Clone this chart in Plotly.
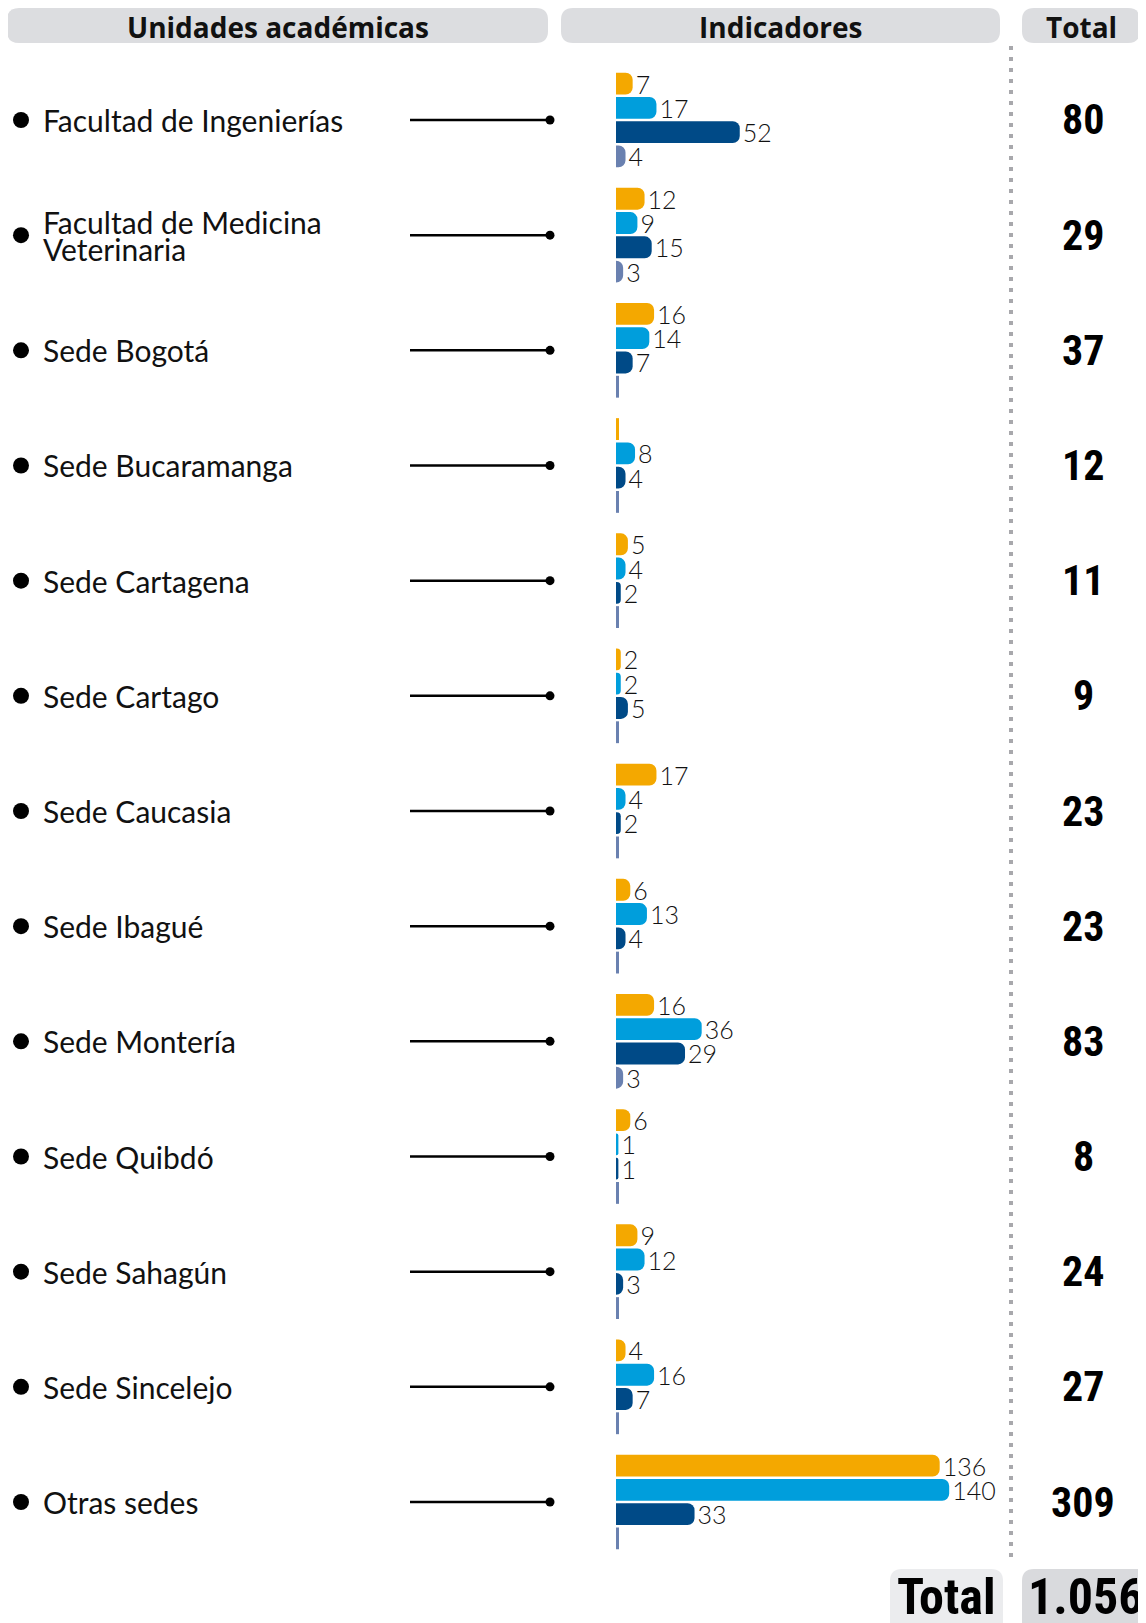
import plotly.graph_objects as go

# ---------------- data ----------------
units = ["Facultad de Ingenierías", "Facultad de Medicina Veterinaria", "Sede Bogotá",
         "Sede Bucaramanga", "Sede Cartagena", "Sede Cartago", "Sede Caucasia",
         "Sede Ibagué", "Sede Montería", "Sede Quibdó", "Sede Sahagún",
         "Sede Sincelejo", "Otras sedes"]
unit_labels = ["Facultad de Ingenierías", "Facultad de Medicina<br>Veterinaria", "Sede Bogotá",
               "Sede Bucaramanga", "Sede Cartagena", "Sede Cartago", "Sede Caucasia",
               "Sede Ibagué", "Sede Montería", "Sede Quibdó", "Sede Sahagún",
               "Sede Sincelejo", "Otras sedes"]
ind1 = [7, 12, 16, 0, 5, 2, 17, 6, 16, 6, 9, 4, 136]
ind2 = [17, 9, 14, 8, 4, 2, 4, 13, 36, 1, 12, 16, 140]
ind3 = [52, 15, 7, 4, 2, 5, 2, 4, 29, 1, 3, 7, 33]
ind4 = [4, 3, 0, 0, 0, 0, 0, 0, 3, 0, 0, 0, 0]
totals = [80, 29, 37, 12, 11, 9, 23, 23, 83, 8, 24, 27, 309]
grand_total = "1.056"
headers = ["Unidades académicas", "Indicadores", "Total"]

# ---------------- style / layout constants ----------------
W, H = 1146, 1623
OFF = 8  # page offset of the figure (body margin)
series = [ind1, ind2, ind3, ind4]
colors = ["#F4A800", "#009EDC", "#004A87", "#6A81B0"]
BARGAP, GROUPGAP = 0.157, 0.10
Y_DOM = [1 - (1559.6 - OFF) / H, 1 - (62.4 - OFF) / H]
X_RANGE = [0, 150]
X_DOM = [(616 - OFF) / W, (973 - OFF) / W]
TXT = "#111111"
LABEL_FONT = "Lato, 'Open Sans', sans-serif"
HEAD_FONT = "'Open Sans', Lato, sans-serif"
COND_FONT = "'Roboto Condensed', Roboto, sans-serif"
LINE_SPACING = 27

fig = go.Figure()

for k, vals in enumerate(series):
    fig.add_trace(go.Bar(
        y=units, x=vals, orientation="h", name=f"Indicador {k+1}",
        marker=dict(color=colors[k], cornerradius=7, line=dict(width=0)),
        text=[str(v) if v > 0 else "" for v in vals],
        textposition="outside", constraintext="none", cliponaxis=False,
        textfont=dict(family=LABEL_FONT, size=25, color=TXT, weight=300),
        hoverinfo="skip", showlegend=False,
    ))

# decorative markers on a page-pixel x axis sharing the category y axis
n = len(units)
fig.add_trace(go.Scatter(x=[21] * n, y=units, xaxis="x3", yaxis="y", mode="markers",
                         marker=dict(size=16, color="black"), hoverinfo="skip", showlegend=False))
fig.add_trace(go.Scatter(x=[550] * n, y=units, xaxis="x3", yaxis="y", mode="markers",
                         marker=dict(size=9, color="black"), hoverinfo="skip", showlegend=False))

shapes = []
annotations = []

def rounded(x0, y0, x1, y1, r):
    return (f"M {x0+r},{y0} L {x1-r},{y0} Q {x1},{y0} {x1},{y0+r} L {x1},{y1-r} "
            f"Q {x1},{y1} {x1-r},{y1} L {x0+r},{y1} Q {x0},{y1} {x0},{y1-r} "
            f"L {x0},{y0+r} Q {x0},{y0} {x0+r},{y0} Z")

# header pills
for (x0, x1), txt in zip([(7, 548), (561, 1000), (1022, 1140)], headers):
    shapes.append(dict(type="path", xref="x3", yref="y3", path=rounded(x0, 8, x1, 43, 12),
                       fillcolor="#DCDDE0", line=dict(width=0), layer="below"))
    annotations.append(dict(x=(x0 + x1) / 2, y=27, xref="x3", yref="y3", text=f"<b>{txt}</b>",
                            showarrow=False, xanchor="center", yanchor="middle", borderpad=0,
                            font=dict(family=HEAD_FONT, size=28, color=TXT)))

# dotted separator
shapes.append(dict(type="line", xref="x3", yref="y3", x0=1011, x1=1011, y0=46, y1=1558,
                   line=dict(color="#A8A8AC", width=4, dash="4px,7px")))

# bottom grand total pills
shapes.append(dict(type="path", xref="x3", yref="y3", path=rounded(890, 1569, 1003, 1650, 12),
                   fillcolor="#EBECEE", line=dict(width=0), layer="below"))
shapes.append(dict(type="path", xref="x3", yref="y3", path=rounded(1022, 1569, 1170, 1650, 12),
                   fillcolor="#D9DADD", line=dict(width=0), layer="below"))
annotations.append(dict(x=946, y=1597, xref="x3", yref="y3", text="<b>Total</b>", showarrow=False,
                        xanchor="center", yanchor="middle",
                        font=dict(family=COND_FONT, size=50, color="black")))
annotations.append(dict(x=1086, y=1597, xref="x3", yref="y3", text=f"<b>{grand_total}</b>",
                        showarrow=False, xanchor="center", yanchor="middle",
                        font=dict(family=COND_FONT, size=50, color="black")))

# per-row labels, connectors, totals
for i, (lab, tot) in enumerate(zip(unit_labels, totals)):
    lines = lab.split("<br>")
    for j, line in enumerate(lines):
        shift = ((len(lines) - 1) / 2 - j) * LINE_SPACING
        annotations.append(dict(x=42, y=i, xref="x3", yref="y", text=line, showarrow=False,
                                xanchor="left", yanchor="middle", align="left", yshift=shift,
                                borderpad=0,
                                font=dict(family=LABEL_FONT, size=30, color=TXT)))
    annotations.append(dict(x=1083, y=i, xref="x3", yref="y", text=f"<b>{tot}</b>", showarrow=False,
                            xanchor="center", yanchor="middle",
                            font=dict(family=COND_FONT, size=42, color="black")))
    shapes.append(dict(type="line", xref="x3", yref="y", x0=410, x1=550, y0=i, y1=i,
                       line=dict(color="black", width=2.5)))

# thin marks for zero-valued indicators
slot = (1 - BARGAP) / len(series)
barw = slot * (1 - GROUPGAP)
for k, vals in enumerate(series):
    off = -(1 - BARGAP) / 2 + (k + 0.5) * slot
    for i, v in enumerate(vals):
        if v == 0:
            shapes.append(dict(type="rect", xref="x", yref="y", xsizemode="pixel", xanchor=0,
                               x0=0, x1=3, y0=i + off - barw / 2, y1=i + off + barw / 2,
                               fillcolor=colors[k], line=dict(width=0)))

fig.update_layout(
    width=W, height=H, margin=dict(l=0, r=0, t=0, b=0),
    paper_bgcolor="white", plot_bgcolor="rgba(0,0,0,0)",
    barmode="group", bargap=BARGAP, bargroupgap=GROUPGAP,
    xaxis=dict(domain=X_DOM, range=X_RANGE, visible=False, fixedrange=True),
    yaxis=dict(domain=Y_DOM, type="category", categoryorder="array", categoryarray=units,
               range=[len(units) - 0.5, -0.5], visible=False, fixedrange=True),
    xaxis3=dict(domain=[0, 1], range=[OFF, W + OFF], visible=False, anchor="y3", fixedrange=True),
    yaxis3=dict(domain=[0, 1], range=[H + OFF, OFF], visible=False, anchor="x3", fixedrange=True),
    shapes=shapes, annotations=annotations,
)

fig.write_html("out.html")
